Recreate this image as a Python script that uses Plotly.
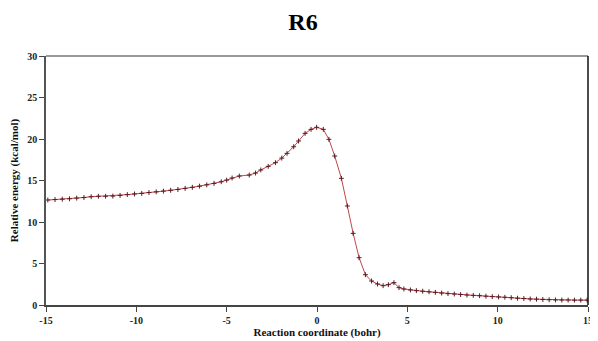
import plotly.graph_objects as go

# Reaction coordinate (bohr) and relative energy (kcal/mol)
coord = [-14.9, -14.5, -14.1, -13.7, -13.3, -12.9, -12.5, -12.1, -11.7, -11.3,
         -10.9, -10.5, -10.1, -9.7, -9.3, -8.9, -8.5, -8.1, -7.7, -7.3,
         -6.9, -6.5, -6.1, -5.7, -5.3, -5.0, -4.7, -4.3, -3.75, -3.4,
         -3.11, -2.7, -2.3, -1.95, -1.66, -1.29, -1.02, -0.66, -0.33, -0.02,
         0.35, 0.66, 0.98, 1.35, 1.68, 2.0, 2.33, 2.68, 3.02, 3.35,
         3.66, 3.95, 4.26, 4.54, 4.81, 5.17, 5.5, 5.85, 6.2, 6.55,
         6.9, 7.25, 7.6, 7.95, 8.3, 8.65, 9.0, 9.35, 9.7, 10.05,
         10.4, 10.75, 11.1, 11.45, 11.8, 12.15, 12.5, 12.85, 13.2, 13.55,
         13.9, 14.25, 14.6, 14.95]
energy = [12.65, 12.7, 12.75, 12.8, 12.88, 12.95, 13.05, 13.1, 13.1, 13.12,
          13.2, 13.3, 13.38, 13.45, 13.55, 13.63, 13.72, 13.82, 13.92, 14.05,
          14.18, 14.32, 14.48, 14.65, 14.85, 15.05, 15.3, 15.54, 15.66, 15.9,
          16.27, 16.7, 17.15, 17.7, 18.27, 19.07, 19.76, 20.68, 21.16, 21.41,
          21.16, 19.96, 17.95, 15.26, 11.93, 8.63, 5.70, 3.65, 2.89, 2.53,
          2.33, 2.45, 2.69, 2.09, 1.93, 1.81, 1.73, 1.66, 1.59, 1.52,
          1.44, 1.37, 1.32, 1.26, 1.2, 1.16, 1.12, 1.06, 1.01, 0.97,
          0.93, 0.88, 0.82, 0.78, 0.73, 0.7, 0.66, 0.63, 0.61, 0.6,
          0.6, 0.59, 0.59, 0.59]

x_ticks = [-15, -10, -5, 0, 5, 10, 15]
y_ticks = [0, 5, 10, 15, 20, 25, 30]

font_family = "Liberation Serif, Times New Roman, serif"

fig = go.Figure()
fig.add_trace(go.Scatter(
    x=coord, y=energy, mode="lines+markers",
    line=dict(color="#c0474c", width=1),
    marker=dict(symbol="cross-thin", size=3.5, line=dict(color="#5a1a22", width=1), color="#5a1a22"),
    showlegend=False,
))

fig.update_layout(
    width=590, height=333,
    margin=dict(l=38, r=5, t=48, b=36),
    paper_bgcolor="white", plot_bgcolor="white",
    title=dict(text="<b>R6</b>", x=0.5, xanchor="center", y=0.958, yanchor="middle",
               font=dict(family=font_family, size=24, color="black")),
    font=dict(family=font_family, color="#222"),
)
fig.update_xaxes(
    range=[-15, 15], tickvals=x_ticks, ticktext=[f"<b>{v}</b>" for v in x_ticks],
    showgrid=False, zeroline=False, ticklabeloverflow="allow",
    showline=True, linecolor="#444", linewidth=1.5, mirror=False,
    ticks="outside", ticklen=5, tickcolor="#444", tickwidth=1.2,
    tickfont=dict(family=font_family, size=10, color="#222"),
    title=dict(text="<b>Reaction coordinate (bohr)</b>", standoff=0,
               font=dict(family=font_family, size=11, color="#111")),
)
fig.update_yaxes(
    range=[0, 30], tickvals=y_ticks, ticktext=[f"<b>{v}</b>" for v in y_ticks],
    showgrid=False, zeroline=False,
    showline=True, linecolor="#555", linewidth=1.5,
    ticks="outside", ticklen=5, tickcolor="#444", tickwidth=1.2,
    tickfont=dict(family=font_family, size=10, color="#222"),
    title=dict(text="<b>Relative energy (kcal/mol)</b>", standoff=6,
               font=dict(family=font_family, size=11, color="#111")),
)
# top and right frame lines
fig.add_shape(type="line", xref="paper", yref="paper", x0=0, x1=1, y0=1, y1=1,
              line=dict(color="#777", width=1.5))
fig.add_shape(type="line", xref="paper", yref="paper", x0=1, x1=1, y0=0, y1=1,
              line=dict(color="#111", width=1.5))

fig.write_html("out.html")
